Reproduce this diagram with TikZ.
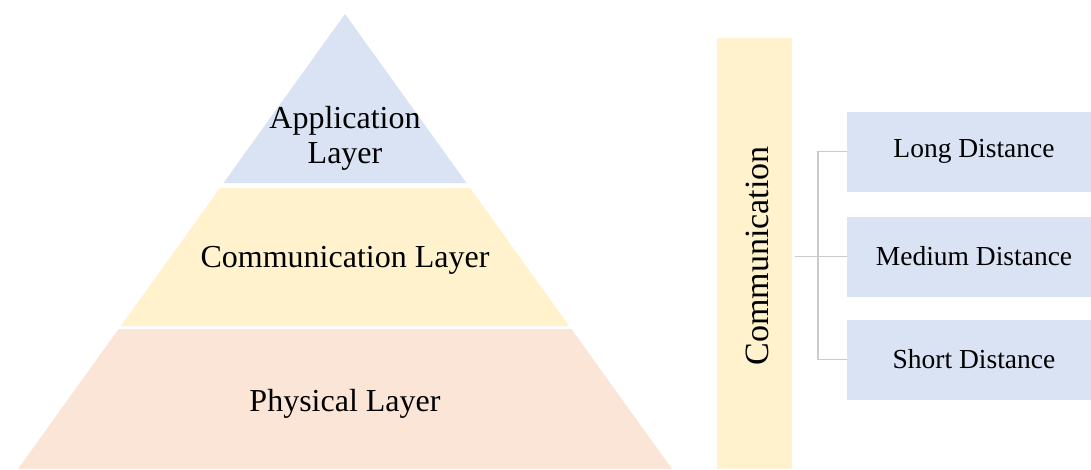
\documentclass[tikz,border=0pt]{standalone}
\usepackage{fontspec}
\setmainfont{Liberation Serif}
\definecolor{appblue}{HTML}{DAE3F3}
\definecolor{comyellow}{HTML}{FFF2CC}
\definecolor{physpeach}{HTML}{FBE5D6}
\definecolor{conngray}{HTML}{CBCBCB}
\begin{document}
\begin{tikzpicture}[x=1pt,y=-1pt,
  lbl/.style={inner sep=0pt, align=center, text=black, font=\fontsize{32}{35}\selectfont},
  distbox/.style={fill=appblue, draw=none, minimum width=254pt, minimum height=80pt, inner sep=0pt, font=\fontsize{27.5}{30}\selectfont},
  barbox/.style={fill=comyellow, draw=none, minimum width=75pt, minimum height=431pt, inner sep=0pt},
  conn/.style={draw=conngray, line width=1.8pt}]
\useasboundingbox (0,0) rectangle (1091,469);
\fill[white] (0,0) rectangle (1091,469);
% pyramid layers
\fill[appblue] (345,14) -- (466.5,183) -- (223.5,183) -- cycle;
\fill[comyellow] (220,188) -- (470,188) -- (569.2,326) -- (120.8,326) -- cycle;
\fill[physpeach] (118.6,329) -- (571.4,329) -- (672,469) -- (18,469) -- cycle;
\node[lbl] (app) at (345,138) {Application\\Layer};
\node[lbl] (com) at (345,260) {Communication Layer};
\node[lbl] (phys) at (345,404) {Physical Layer};
% right side
\node[barbox] (bar) at (754.5,253.5) {};
\node[rotate=90, inner sep=0pt, font=\fontsize{34}{36}\selectfont] (bartext) at (757,256) {Communication};
\node[distbox] (long) at (974,151.5) {Long Distance};
\node[distbox] (med) at (974,256.5) {Medium Distance};
\node[distbox] (short) at (974,359.5) {Short Distance};
\coordinate (jn) at ([xshift=3pt]bar.east |- med.west);
\draw[conn] (jn) -- (med.west);
\draw[conn] (long.west) -- ++(-29,0) |- (short.west);
\end{tikzpicture}
\end{document}
